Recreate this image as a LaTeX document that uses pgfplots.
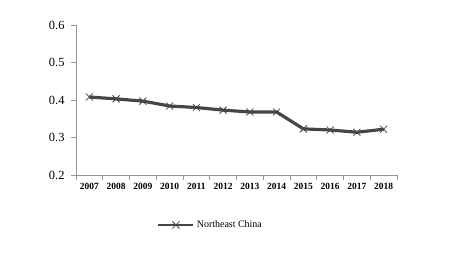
\documentclass[border=0pt]{standalone}
\usepackage{pgfplots}
\pgfplotsset{compat=1.18}
\usepackage{fontspec}
\setmainfont{Liberation Serif}
\definecolor{axgray}{RGB}{150,150,150}
\definecolor{linegray}{RGB}{70,70,70}
\begin{document}
\begin{tikzpicture}
\useasboundingbox (0,0) rectangle (454bp,255bp);
\begin{axis}[
  at={(76bp,80bp)}, anchor=south west,
  scale only axis, width=321bp, height=150bp,
  xmin=-0.5, xmax=11.5, ymin=0.2, ymax=0.6,
  axis lines*=left,
  axis line style={axgray, line width=0.8pt},
  xtick={0,...,11},
  xticklabels={2007,2008,2009,2010,2011,2012,2013,2014,2015,2016,2017,2018},
  minor xtick={-0.5,0.5,...,11.5},
  major x tick style={draw=none},
  minor x tick style={axgray, line width=0.8pt},
  minor tick length=5bp,
  ytick={0.2,0.3,0.4,0.5,0.6},
  yticklabel style={/pgf/number format/fixed, /pgf/number format/precision=1, font=\fontsize{12.5}{12.5}\selectfont, xshift=-3bp},
  y tick style={axgray, line width=0.8pt},
  major tick length=5bp,
  tick align=outside,
  xticklabel style={font=\fontsize{9.5}{9.5}\selectfont\bfseries},
  /pgf/number format/assume math mode=true,
  legend style={at={(0.252,-0.333)}, anchor=west, draw=none, fill=none, font=\fontsize{10}{10}\selectfont, inner sep=0pt},
  legend cell align=left,
  legend image code/.code={
    \draw[#1, line width=2.8pt] (0bp,0bp) -- (35bp,0bp);
    \draw[#1, mark options={line width=0.8pt}] plot coordinates {(17.5bp,0bp)};
  },
  clip=false,
]
\addplot[linegray, line width=3.2pt, mark=x, mark size=5bp, mark options={line width=0.8pt, linegray}] coordinates {
(0,0.408) (1,0.403) (2,0.397) (3,0.384) (4,0.380) (5,0.373) (6,0.368) (7,0.368) (8,0.323) (9,0.320) (10,0.314) (11,0.322)
};
\addlegendentry{Northeast China}
\end{axis}
\end{tikzpicture}
\end{document}
